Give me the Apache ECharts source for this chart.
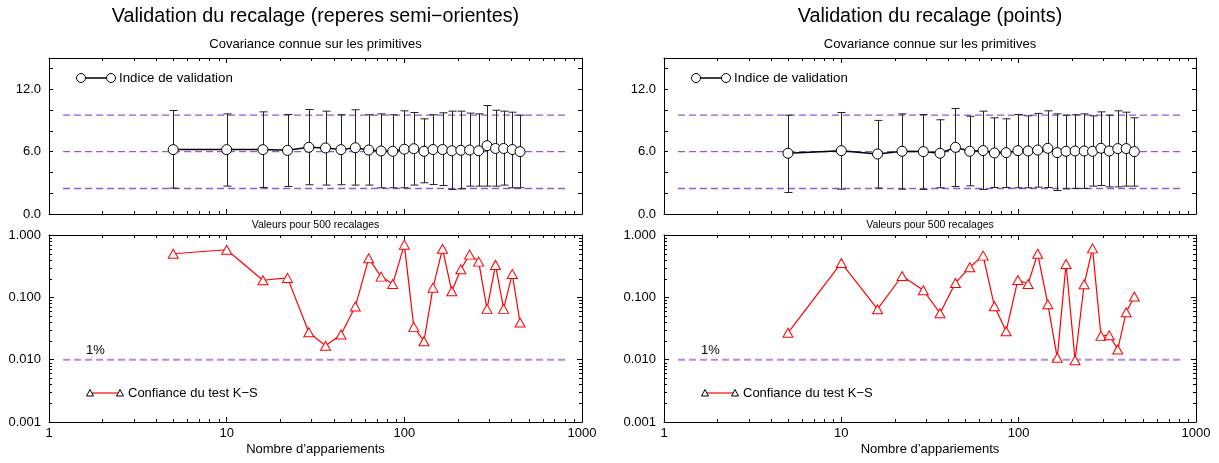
<!DOCTYPE html>
<html><head><meta charset="utf-8">
<script src="https://cdn.jsdelivr.net/npm/echarts@6/dist/echarts.min.js"></script>
<style>html,body{margin:0;padding:0;background:#fff}#c{width:1219px;height:463px}</style>
</head><body><div id="c"></div>
<script>
// ---------- DATA ----------
const nLeft  = [5,10,16,22,29,36,44,53,63,74,86,100,113,129,145,164,185,208,233,262,292,326,362,405,448];
const nRight = [5,10,16,22,29,36,44,53,63,73,85,99,113,128,146,165,185,208,234,261,291,324,362,404,449];

const idxLeft     = [6.19,6.19,6.19,6.12,6.41,6.35,6.19,6.37,6.15,6.06,6.03,6.23,6.28,6.03,6.20,6.20,6.08,6.13,6.15,6.08,6.57,6.30,6.30,6.20,6.00];
const idxLeftHigh = [9.95,9.63,9.82,9.57,10.05,9.89,9.54,10.02,9.54,9.63,9.54,9.92,9.76,9.15,9.54,9.73,9.89,9.89,9.70,9.63,10.43,9.98,9.89,9.79,9.50];
const idxLeftLow  = [2.49,2.68,2.55,2.65,2.81,2.78,2.81,2.78,2.78,2.52,2.52,2.52,2.78,3.00,2.84,2.74,2.36,2.42,2.68,2.68,2.68,2.68,2.78,2.52,2.52];

const idxRight     = [5.84,6.09,5.77,6.03,6.00,5.84,6.41,6.03,6.10,5.87,5.90,6.09,6.06,6.15,6.32,5.90,6.03,6.06,6.06,6.03,6.32,6.06,6.29,6.29,6.00];
const idxRightHigh = [9.50,9.76,9.00,9.63,9.57,9.06,10.14,9.40,9.89,9.25,9.15,9.57,9.44,9.67,9.92,9.63,9.50,9.54,9.63,9.44,9.82,9.50,9.92,9.79,9.25];
const idxRightLow  = [2.07,2.39,2.49,2.39,2.36,2.52,2.65,2.71,2.36,2.55,2.55,2.52,2.52,2.58,2.55,2.26,2.42,2.46,2.46,2.68,2.74,2.61,2.61,2.68,2.68];

const ksLeft  = [0.50,0.58,0.188,0.205,0.0276,0.0167,0.0253,0.0711,0.423,0.215,0.164,0.70,0.0336,0.0198,0.143,0.60,0.125,0.282,0.484,0.374,0.0653,0.331,0.0653,0.237,0.0394];
const ksRight = [0.027,0.356,0.0645,0.22,0.130,0.0556,0.170,0.303,0.467,0.072,0.0286,0.190,0.164,0.50,0.0776,0.0107,0.343,0.0098,0.162,0.61,0.0241,0.0247,0.0146,0.0577,0.103];

const bandLines   = [2.45, 6.0, 9.5];   // dashed reference lines (top plots)
const bandExtent  = [1.2, 830];         // x extent of the dashed lines
const ksThreshold = 0.01;               // 1% line
const yTopLabels  = [0, 6, 12];

const titles = ['Validation du recalage (reperes semi\u2212orientes)', 'Validation du recalage (points)'];
const subtitle = 'Covariance connue sur les primitives';
const midNote = 'Valeurs pour 500 recalages';
const xName = 'Nombre d\u2019appariements';
const legendTop = 'Indice de validation';
const legendBot = 'Confiance du test K\u2212S';
const pctLabel = '1%';

// ---------- LAYOUT ----------
const FONT = "'Liberation Sans', Arial, Helvetica, sans-serif";
const PANELS = [
  {left:49,  width:533, title:titles[0], n:nLeft,  idx:idxLeft,  hi:idxLeftHigh,  lo:idxLeftLow,  ks:ksLeft},
  {left:664, width:532, title:titles[1], n:nRight, idx:idxRight, hi:idxRightHigh, lo:idxRightLow, ks:ksRight}
];
const TOPG = {top:58, height:156};
const BOTG = {top:235, height:187};

const minorX = [], minorY = [];
[1,10,100].forEach(d => { for (let k=2;k<=9;k++) minorX.push(k*d); });
[0.001,0.01,0.1].forEach(d => { for (let k=2;k<=9;k++) minorY.push(+(k*d).toFixed(4)); });

const grid = [], xAxis = [], yAxis = [], series = [], graphic = [];

function axLine(){ return {show:true, onZero:false, lineStyle:{color:'#000', width:1}}; }
function logX(g, pos, lab){
  return {type:'log', logBase:10, min:1, max:1000, gridIndex:g, position:pos,
    axisLine:axLine(), axisTick:{show:true, inside:true, length:5, lineStyle:{color:'#000'}},
    axisLabel:{show:lab, color:'#000', fontSize:13, fontFamily:FONT, margin:5, formatter:v=>String(Math.round(v))},
    splitLine:{show:false}, minorTick:{show:false}};
}
function valY(g, pos, lab){
  return {type:'value', min:0, max:15, interval:2, gridIndex:g, position:pos,
    axisLine:axLine(), axisTick:{show:true, inside:true, length:4, lineStyle:{color:'#000'}},
    axisLabel:{show:lab, color:'#000', fontSize:13, fontFamily:FONT, margin:8,
      formatter:v => yTopLabels.indexOf(v) >= 0 ? v.toFixed(1) : ''},
    splitLine:{show:false}};
}
function logY(g, pos, lab){
  return {type:'log', logBase:10, min:0.001, max:1, gridIndex:g, position:pos,
    axisLine:axLine(), axisTick:{show:true, inside:true, length:5, lineStyle:{color:'#000'}},
    axisLabel:{show:lab, color:'#000', fontSize:13, fontFamily:FONT, margin:8, formatter:v=>(+v).toFixed(3)},
    splitLine:{show:false}, minorTick:{show:false}};
}
function minorXSeries(g, yRef){
  return {type:'custom', xAxisIndex:2*g, yAxisIndex:2*g, silent:true, clip:false, z:5,
    encode:{x:0, y:1}, data:minorX.map(v=>[v, yRef]),
    renderItem(params, api){
      const cs = params.coordSys; const x = Math.round(api.coord([api.value(0), api.value(1)])[0]) + 0.5;
      const yb = cs.y + cs.height, yt = cs.y;
      return {type:'group', children:[
        {type:'line', shape:{x1:x,y1:yb,x2:x,y2:yb-3}, style:{stroke:'#000', lineWidth:1}},
        {type:'line', shape:{x1:x,y1:yt,x2:x,y2:yt+3}, style:{stroke:'#000', lineWidth:1}}]};
    }};
}
function minorYSeries(g){
  return {type:'custom', xAxisIndex:2*g, yAxisIndex:2*g, silent:true, clip:false, z:5,
    encode:{x:0, y:1}, data:minorY.map(v=>[10, v]),
    renderItem(params, api){
      const cs = params.coordSys; const y = Math.round(api.coord([api.value(0), api.value(1)])[1]) + 0.5;
      const xl = cs.x, xr = cs.x + cs.width;
      return {type:'group', children:[
        {type:'line', shape:{x1:xl,y1:y,x2:xl+3,y2:y}, style:{stroke:'#000', lineWidth:1}},
        {type:'line', shape:{x1:xr,y1:y,x2:xr-3,y2:y}, style:{stroke:'#000', lineWidth:1}}]};
    }};
}
function errorBars(g, xs, lo, hi){
  return {type:'custom', xAxisIndex:2*g, yAxisIndex:2*g, silent:true, z:2,
    encode:{x:0, y:[1,2]}, data:xs.map((x,i)=>[x, lo[i], hi[i]]),
    renderItem(params, api){
      const x = api.value(0);
      const a = api.coord([x, api.value(1)]), b = api.coord([x, api.value(2)]);
      const px = Math.round(a[0]) + 0.5, hw = 4;
      const st = {stroke:'#222', lineWidth:1};
      return {type:'group', children:[
        {type:'line', shape:{x1:px,y1:a[1],x2:px,y2:b[1]}, style:st},
        {type:'line', shape:{x1:px-hw,y1:a[1],x2:px+hw,y2:a[1]}, style:st},
        {type:'line', shape:{x1:px-hw,y1:b[1],x2:px+hw,y2:b[1]}, style:st}]};
    }};
}
function text(x, y, s, size, align){
  return {type:'text', silent:true, x:x, y:y, style:{text:s, fill:'#000', font:`${size}px ${FONT}`,
    textAlign:align||'center', textVerticalAlign:'middle'}};
}

PANELS.forEach((P, p) => {
  const gT = 2*p, gB = 2*p+1;
  grid.push({left:P.left, top:TOPG.top, width:P.width, height:TOPG.height, containLabel:false});
  grid.push({left:P.left, top:BOTG.top, width:P.width, height:BOTG.height, containLabel:false});
  xAxis.push(logX(gT,'bottom',false), logX(gT,'top',false), logX(gB,'bottom',true), logX(gB,'top',false));
  yAxis.push(valY(gT,'left',true), valY(gT,'right',false), logY(gB,'left',true), logY(gB,'right',false));

  // top plot
  bandLines.forEach(v => series.push({type:'line', xAxisIndex:2*gT, yAxisIndex:2*gT, silent:true, symbol:'none', z:1,
    data:[[bandExtent[0], v],[bandExtent[1], v]], lineStyle:{color:'#9457d9', width:1.3, type:[7,4]}}));
  series.push(errorBars(gT, P.n, P.lo, P.hi));
  series.push({type:'line', name:legendTop, xAxisIndex:2*gT, yAxisIndex:2*gT, z:4,
    data:P.n.map((x,i)=>[x, P.idx[i]]), symbol:'circle', symbolSize:10, showAllSymbol:true,
    itemStyle:{color:'#fff', borderColor:'#000', borderWidth:1}, lineStyle:{color:'#000', width:1.5}});
  series.push(minorXSeries(gT, 5));

  // bottom plot
  series.push({type:'line', xAxisIndex:2*gB, yAxisIndex:2*gB, silent:true, symbol:'none', z:1,
    data:[[bandExtent[0], ksThreshold],[bandExtent[1], ksThreshold]], lineStyle:{color:'#b389e6', width:2, type:[7,4]}});
  series.push({type:'line', name:legendBot, xAxisIndex:2*gB, yAxisIndex:2*gB, z:4,
    data:P.n.map((x,i)=>[x, P.ks[i]]), symbol:'triangle', symbolSize:[10,9], showAllSymbol:true,
    itemStyle:{color:'#fff', borderColor:'#ff0000', borderWidth:1}, lineStyle:{color:'#ff0000', width:1.2}});
  series.push(minorXSeries(gB, 0.1));
  series.push(minorYSeries(gB));

  // texts
  const cx = P.left + P.width/2;
  const off = P.left - 49;
  graphic.push(text(cx, 17, P.title, 19.7));
  graphic.push(text(cx, 44, subtitle, 13));
  graphic.push(text(cx, 225, midNote, 10.5));
  graphic.push(text(cx, 449, xName, 13));
  graphic.push(text(86 + off, 350, pctLabel, 13, 'left'));
  // legend top
  graphic.push({type:'line', silent:true, shape:{x1:81+off,y1:78,x2:111+off,y2:78}, style:{stroke:'#000', lineWidth:1.5}});
  graphic.push({type:'circle', silent:true, shape:{cx:81+off, cy:78, r:4.5}, style:{fill:'#fff', stroke:'#000', lineWidth:1}});
  graphic.push({type:'circle', silent:true, shape:{cx:111+off, cy:78, r:4.5}, style:{fill:'#fff', stroke:'#000', lineWidth:1}});
  graphic.push(text(119+off, 78, legendTop, 13.3, 'left'));
  // legend bottom
  graphic.push({type:'line', silent:true, shape:{x1:90+off,y1:393,x2:120+off,y2:393}, style:{stroke:'#ff0000', lineWidth:1.2}});
  [90,120].forEach(tx => graphic.push({type:'polygon', silent:true,
    shape:{points:[[tx+off-3.5,396],[tx+off+3.5,396],[tx+off,389.5]]}, style:{fill:'#fff', stroke:'#000', lineWidth:1}}));
  graphic.push(text(128+off, 393, legendBot, 13, 'left'));
});

const chart = echarts.init(document.getElementById('c'), null, {renderer:'canvas'});
chart.setOption({animation:false, backgroundColor:'#fff', grid, xAxis, yAxis, series, graphic, tooltip:{show:false}});
</script></body></html>
